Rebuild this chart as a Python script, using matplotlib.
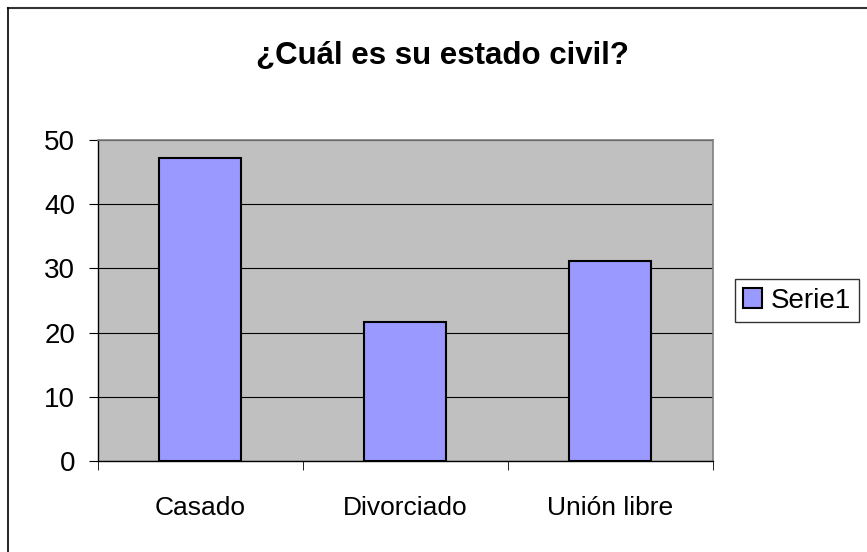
import matplotlib.pyplot as plt
from matplotlib.lines import Line2D

categorias = ["Casado", "Divorciado", "Unión libre"]
serie1 = [47.2, 21.7, 31.1]

plt.rcParams['font.family'] = ['Liberation Sans', 'DejaVu Sans']

fig = plt.figure(figsize=(8.67, 5.52), dpi=100)
ax = fig.add_axes([0.113, 0.165, 0.709, 0.581])
ax.set_facecolor("#C0C0C0")

x = list(range(len(categorias)))
ax.bar(x, serie1, width=0.4, color="#9999FF", edgecolor="black", linewidth=1.5,
       label="Serie1", zorder=3)

ax.set_xlim(-0.5, 2.5)
ax.set_ylim(0, 50)
ax.set_yticks(range(0, 51, 10))
ax.yaxis.grid(True, color="black", linewidth=0.8, zorder=1)
ax.set_xticks(x)
ax.set_xticklabels(categorias)
ax.set_xticks([-0.5, 0.5, 1.5, 2.5], minor=True)
ax.tick_params(axis="x", which="major", length=0, pad=25, labelsize=19)
ax.tick_params(axis="x", which="minor", length=6.5, direction="out")
ax.tick_params(axis="y", length=6.5, direction="out", labelsize=20, pad=10)

for s in ["top", "right"]:
    ax.spines[s].set_color("#808080")
    ax.spines[s].set_linewidth(1.2)
for s in ["left", "bottom"]:
    ax.spines[s].set_color("black")
    ax.spines[s].set_linewidth(1.0)

fig.suptitle("¿Cuál es su estado civil?", x=0.51, y=0.925, fontsize=22.5, fontweight="bold")

leg = ax.legend(loc="upper left", bbox_to_anchor=(1.036, 0.566), fontsize=20,
                frameon=True, fancybox=False, handlelength=0.68, handleheight=0.68,
                handletextpad=0.3, borderpad=0.3, borderaxespad=0)
leg.get_frame().set_edgecolor("black")
leg.get_frame().set_linewidth(1.0)

# marco de la figura (solo arriba e izquierda visibles)
fig.add_artist(Line2D([8 / 867, 1], [1 - 8 / 552] * 2, transform=fig.transFigure,
                      color="#333333", linewidth=1.5))
fig.add_artist(Line2D([8 / 867] * 2, [0, 1 - 8 / 552], transform=fig.transFigure,
                      color="black", linewidth=1.2))

fig.savefig("out.png", dpi=100)
